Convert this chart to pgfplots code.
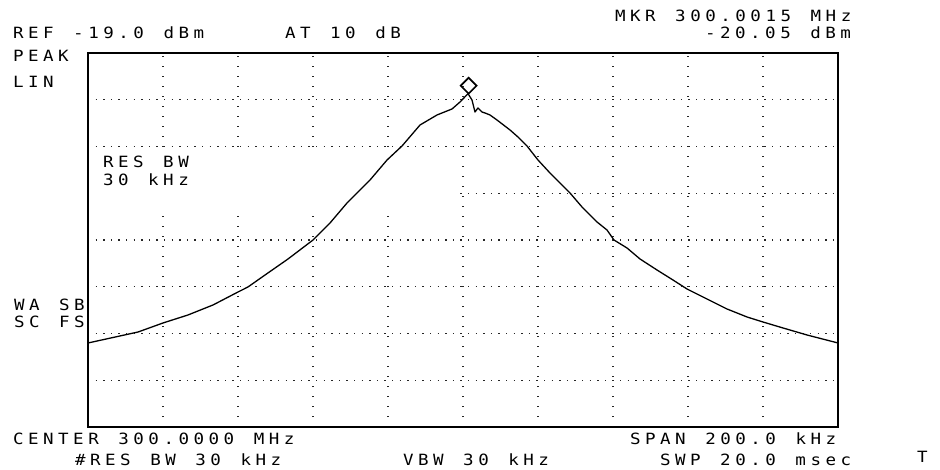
\documentclass[border=0pt]{standalone}
\usepackage{fontspec}
\usepackage{graphicx}
\usepackage{pgfplots}
\pgfplotsset{compat=1.18}
\newfontfamily\hpfont{DejaVu Sans Mono}
\newcommand\hpf{\hpfont\fontsize{15.5pt}{17pt}\selectfont}
\ExplSyntaxOn
\NewDocumentCommand\hp{m}{ {\hpf \str_map_inline:nn {#1} {\makebox[15.05pt][l]{\scalebox{1.13}[1]{##1}}} } }
\ExplSyntaxOff
\begin{document}
\begin{tikzpicture}[x=1pt,y=1pt]
\path[use as bounding box] (0,0) rectangle (940,469);
\begin{axis}[at={(88pt,42pt)}, anchor=south west,
  width=750pt, height=374pt, scale only axis,
  xmin=0, xmax=10, ymin=0, ymax=8,
  xtick={1,...,9}, ytick={1,...,7},
  xticklabels={}, yticklabels={},
  major tick length=0pt,
  xmajorgrids, ymajorgrids,
  major x grid style={black!85, line width=1.3pt, dash pattern=on 1.3pt off 8.7pt},
  major y grid style={black!85, line width=1.3pt, dash pattern=on 1.3pt off 6.3pt},
  axis line style={line width=1.8pt},
  clip=false]
\fill[white] (axis cs:0.02,4.53) rectangle (axis cs:4.92,5.93);
\addplot[black, line width=1.3pt, line join=round] coordinates {
(0,1.797) (0.667,2.032) (1.0,2.225) (1.333,2.396) (1.667,2.610) (2.0,2.888)
(2.133,2.995) (2.36,3.251) (2.667,3.594) (3.0,4.0) (3.227,4.364) (3.453,4.791)
(3.76,5.283) (3.987,5.711) (4.187,6.011) (4.427,6.46) (4.653,6.674) (4.853,6.802)
(4.96,6.952) (5.067,7.13) (5.12,6.995) (5.16,6.738) (5.2,6.824) (5.253,6.738)
(5.293,6.717) (5.36,6.674) (5.453,6.567) (5.627,6.353) (5.733,6.203) (5.853,6.011)
(6.0,5.711) (6.16,5.433) (6.293,5.219) (6.427,5.005) (6.587,4.706) (6.787,4.385)
(6.92,4.214) (7.013,4.0) (7.187,3.829) (7.36,3.594) (7.587,3.358) (7.8,3.144)
(7.987,2.952) (8.253,2.738) (8.52,2.524) (8.787,2.353) (9.0,2.246) (9.267,2.118)
(9.587,1.968) (10,1.797)};
\addplot[only marks, mark=square, mark size=5.6pt,
  mark options={yshift=8pt, rotate=45, line width=1.7pt, black}] coordinates {(5.075,7.13)};
\end{axis}
\tikzset{every node/.style={anchor=base west, inner sep=0pt, outer sep=0pt}}
\node at (13,430) {\hp{REF -19.0 dBm}};
\node at (285,430) {\hp{AT 10 dB}};
\node at (615,447) {\hp{MKR 300.0015 MHz}};
\node at (705,430) {\hp{-20.05 dBm}};
\node at (13,407) {\hp{PEAK}};
\node at (13,381) {\hp{LIN}};
\node at (103,301) {\hp{RES BW}};
\node at (103,283) {\hp{30 kHz}};
\node at (14,158) {\hp{WA SB}};
\node at (14,142) {\hp{SC FS}};
\node at (13,25) {\hp{CENTER 300.0000 MHz}};
\node at (630,25) {\hp{SPAN 200.0 kHz}};
\node at (75,4) {\makebox[15.05pt][l]{\hpf\scalebox{1.13}[1]{\#}}\hp{RES BW 30 kHz}};
\node at (403,4) {\hp{VBW 30 kHz}};
\node at (660,4) {\hp{SWP 20.0 msec}};
\node at (917,7) {\hp{T}};
\end{tikzpicture}
\end{document}
